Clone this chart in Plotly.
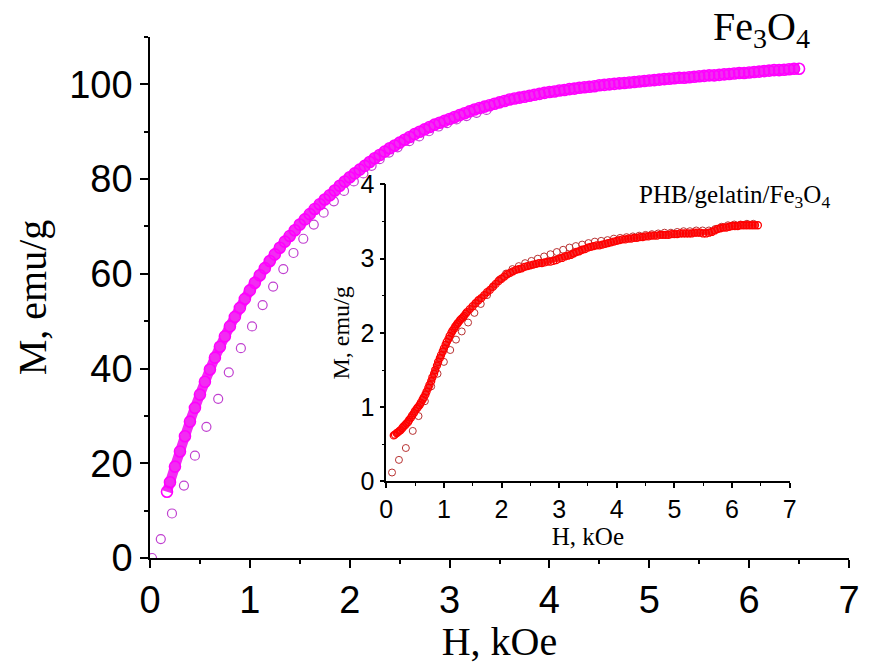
import plotly.graph_objects as go

# ---------------- main plot data (Fe3O4) ----------------
main_loop_H = [0.17, 0.20, 0.25, 0.30, 0.35, 0.40, 0.45, 0.50, 0.55, 0.60, 0.65, 0.70, 0.75, 0.80, 0.85, 0.90, 0.95,
               1.00, 1.05, 1.10, 1.15, 1.20, 1.25, 1.30, 1.35, 1.40, 1.45, 1.50, 1.55, 1.60, 1.65, 1.70, 1.75, 1.80,
               1.85, 1.90, 1.95, 2.00, 2.05, 2.10, 2.15, 2.20, 2.25, 2.30, 2.35, 2.40, 2.45, 2.50, 2.55, 2.60, 2.65,
               2.70, 2.75, 2.80, 2.85, 2.90, 2.95, 3.00, 3.05, 3.10, 3.15, 3.20, 3.25, 3.30, 3.35, 3.40, 3.45, 3.50,
               3.55, 3.60, 3.65, 3.70, 3.75, 3.80, 3.85, 3.90, 3.95, 4.00, 4.05, 4.10, 4.15, 4.20, 4.25, 4.30, 4.35,
               4.40, 4.45, 4.50, 4.55, 4.60, 4.65, 4.70, 4.75, 4.80, 4.85, 4.90, 4.95, 5.00, 5.05, 5.10, 5.15, 5.20,
               5.25, 5.30, 5.35, 5.40, 5.45, 5.50, 5.55, 5.60, 5.65, 5.70, 5.75, 5.80, 5.85, 5.90, 5.95, 6.00, 6.05,
               6.10, 6.15, 6.20, 6.25, 6.30, 6.35, 6.40, 6.45, 6.50]
main_loop_M = [14.0, 16.0, 19.3, 22.5, 25.7, 28.8, 31.7, 34.5, 37.2, 39.8, 42.3, 44.6, 46.8, 48.9, 50.9, 52.8, 54.7,
               56.5, 58.1, 59.7, 61.2, 62.7, 64.1, 65.5, 66.8, 68.0, 69.2, 70.4, 71.5, 72.6, 73.7, 74.7, 75.7, 76.6,
               77.6, 78.6, 79.5, 80.4, 81.2, 82.0, 82.8, 83.6, 84.4, 85.1, 85.8, 86.5, 87.1, 87.7, 88.3, 88.9, 89.5,
               90.0, 90.5, 91.0, 91.5, 91.9, 92.3, 92.7, 93.1, 93.5, 93.9, 94.3, 94.7, 95.0, 95.3, 95.6, 95.9, 96.2,
               96.5, 96.8, 97.0, 97.2, 97.4, 97.6, 97.8, 98.0, 98.2, 98.4, 98.5, 98.7, 98.8, 99.0, 99.1, 99.3, 99.4,
               99.5, 99.6, 99.8, 99.9, 100.0, 100.1, 100.2, 100.3, 100.4, 100.5, 100.6, 100.7, 100.8, 100.9, 101.0,
               101.1, 101.2, 101.3, 101.4, 101.4, 101.5, 101.6, 101.7, 101.8, 101.9, 101.9, 102.0, 102.1, 102.2,
               102.3, 102.4, 102.4, 102.5, 102.6, 102.7, 102.8, 102.9, 103.0, 103.0, 103.1, 103.2, 103.3, 103.3]

main_virgin_H = [0.02, 0.108, 0.22, 0.34, 0.45, 0.565, 0.683, 0.789, 0.91, 1.022, 1.128, 1.233, 1.335, 1.437, 1.535,
                 1.64, 1.739, 1.841, 1.943, 2.041, 2.137, 2.219, 2.30, 2.394, 2.48, 2.597, 2.696, 2.794, 2.89, 2.975,
                 3.07, 3.17, 3.27, 3.37]
main_virgin_M = [0.0, 4.0, 9.4, 15.3, 21.6, 27.7, 33.6, 39.2, 44.3, 48.9, 53.4, 57.3, 61.0, 64.4, 67.4,
                 70.4, 72.9, 75.3, 77.5, 79.5, 81.2, 82.8, 84.2, 85.6, 86.7, 88.0, 89.0, 90.1, 91.1, 91.8,
                 92.6, 93.3, 94.0, 94.6]

# ---------------- inset data (PHB/gelatin/Fe3O4) ----------------
inset_loop_H = [0.13, 0.15, 0.18, 0.20, 0.23, 0.25, 0.28, 0.30, 0.33, 0.35, 0.38, 0.40, 0.43, 0.45, 0.48, 0.50, 0.53,
                0.55, 0.58, 0.60, 0.63, 0.65, 0.68, 0.70, 0.73, 0.75, 0.78, 0.80, 0.83, 0.85, 0.88, 0.90, 0.93, 0.95,
                0.98, 1.00, 1.03, 1.05, 1.08, 1.10, 1.13, 1.15, 1.18, 1.20, 1.23, 1.25, 1.28, 1.30, 1.33, 1.35, 1.38,
                1.40, 1.45, 1.50, 1.55, 1.60, 1.65, 1.70, 1.75, 1.80, 1.85, 1.90, 1.95, 2.00, 2.05, 2.10, 2.15, 2.20,
                2.25, 2.30, 2.35, 2.40, 2.45, 2.50, 2.55, 2.60, 2.65, 2.70, 2.75, 2.80, 2.85, 2.90, 2.95, 3.00, 3.05,
                3.10, 3.15, 3.20, 3.25, 3.30, 3.35, 3.40, 3.45, 3.50, 3.55, 3.60, 3.65, 3.70, 3.75, 3.80, 3.85, 3.90,
                3.95, 4.00, 4.05, 4.10, 4.15, 4.20, 4.25, 4.30, 4.35, 4.40, 4.45, 4.50, 4.55, 4.60, 4.65, 4.70, 4.75,
                4.80, 4.85, 4.90, 4.95, 5.00, 5.05, 5.10, 5.15, 5.20, 5.25, 5.30, 5.35, 5.40, 5.45, 5.50, 5.55, 5.60,
                5.65, 5.70, 5.75, 5.80, 5.85, 5.90, 5.95, 6.00, 6.05, 6.10, 6.15, 6.20, 6.25, 6.30, 6.35, 6.40, 6.45]
inset_loop_M = [0.62, 0.63, 0.65, 0.66, 0.68, 0.69, 0.72, 0.74, 0.76, 0.78, 0.80, 0.83, 0.86, 0.89, 0.92, 0.95, 0.98,
                1.00, 1.03, 1.06, 1.10, 1.13, 1.17, 1.21, 1.26, 1.30, 1.35, 1.40, 1.45, 1.50, 1.56, 1.61, 1.66, 1.70,
                1.75, 1.79, 1.84, 1.88, 1.92, 1.96, 2.00, 2.03, 2.06, 2.09, 2.12, 2.14, 2.17, 2.19, 2.21, 2.23, 2.26,
                2.28, 2.32, 2.36, 2.40, 2.44, 2.47, 2.51, 2.55, 2.58, 2.62, 2.66, 2.70, 2.73, 2.76, 2.79, 2.81, 2.83,
                2.85, 2.86, 2.87, 2.89, 2.90, 2.91, 2.92, 2.93, 2.94, 2.94, 2.95, 2.96, 2.96, 2.97, 2.98, 3.00, 3.01,
                3.03, 3.04, 3.05, 3.07, 3.09, 3.10, 3.12, 3.13, 3.15, 3.16, 3.17, 3.18, 3.18, 3.19, 3.20, 3.21, 3.22,
                3.23, 3.24, 3.25, 3.26, 3.26, 3.27, 3.27, 3.28, 3.28, 3.29, 3.29, 3.30, 3.30, 3.31, 3.31, 3.31, 3.32,
                3.32, 3.32, 3.32, 3.33, 3.33, 3.33, 3.34, 3.34, 3.34, 3.34, 3.34, 3.35, 3.35, 3.35, 3.34, 3.34, 3.35,
                3.36, 3.38, 3.40, 3.41, 3.42, 3.42, 3.43, 3.44, 3.44, 3.44, 3.45, 3.45, 3.45, 3.45, 3.45, 3.45, 3.45]

inset_virgin_H = [0.10, 0.22, 0.34, 0.46, 0.56, 0.67, 0.78, 0.89, 1.00, 1.11, 1.21, 1.31, 1.42, 1.53, 1.64, 1.75,
                  1.86, 1.97, 2.08, 2.19, 2.30, 2.41, 2.52, 2.63, 2.74, 2.85, 2.96, 3.07, 3.18, 3.29, 3.40, 3.51,
                  3.62, 3.73, 3.84, 3.95, 4.06, 4.17, 4.28, 4.39, 4.50, 4.61, 4.72, 4.83, 4.94, 5.05, 5.16, 5.27,
                  5.38, 5.49, 5.60, 5.71, 5.82, 5.93, 6.04, 6.15, 6.26, 6.37]
inset_virgin_M = [0.12, 0.29, 0.45, 0.68, 0.88, 1.08, 1.28, 1.45, 1.61, 1.77, 1.91, 2.02, 2.14, 2.27, 2.39, 2.51,
                  2.63, 2.72, 2.80, 2.86, 2.90, 2.94, 2.97, 3.00, 3.03, 3.06, 3.09, 3.12, 3.15, 3.17, 3.19, 3.21,
                  3.23, 3.24, 3.25, 3.27, 3.28, 3.29, 3.30, 3.31, 3.32, 3.33, 3.34, 3.35, 3.35, 3.36, 3.37, 3.37,
                  3.38, 3.38, 3.38, 3.40, 3.43, 3.45, 3.46, 3.46, 3.47, 3.47]

MAIN_COLOR = "#FF00FF"
MAIN_BAND = "#F22CF2"
MAIN_VIRGIN_COLOR = "#C040D0"
INSET_COLOR = "#FF0000"
INSET_BAND = "#F23030"
INSET_VIRGIN_COLOR = "#B83232"

SANS = "Liberation Sans, Arial, sans-serif"
SERIF = "Liberation Serif, Times New Roman, serif"

fig = go.Figure()

fig.add_trace(go.Scatter(x=main_virgin_H, y=main_virgin_M, mode="markers",
                         marker=dict(symbol="circle-open", size=9, color=MAIN_VIRGIN_COLOR,
                                     line=dict(width=1.2)),
                         xaxis="x", yaxis="y", showlegend=False))
fig.add_trace(go.Scatter(x=main_loop_H, y=main_loop_M, mode="lines+markers",
                         line=dict(color=MAIN_BAND, width=10, shape="spline"),
                         marker=dict(symbol="circle-open", size=11, color=MAIN_COLOR,
                                     line=dict(width=1.6)),
                         xaxis="x", yaxis="y", showlegend=False))

fig.add_trace(go.Scatter(x=inset_virgin_H, y=inset_virgin_M, mode="markers",
                         marker=dict(symbol="circle-open", size=7, color=INSET_VIRGIN_COLOR,
                                     line=dict(width=1)),
                         xaxis="x2", yaxis="y2", showlegend=False))
fig.add_trace(go.Scatter(x=inset_loop_H, y=inset_loop_M, mode="lines+markers",
                         line=dict(color=INSET_BAND, width=6),
                         marker=dict(symbol="circle-open", size=7, color=INSET_COLOR,
                                     line=dict(width=1.3)),
                         xaxis="x2", yaxis="y2", showlegend=False))

axis_common = dict(showline=True, linecolor="black", linewidth=1.5, ticks="outside",
                   tickcolor="black", tickwidth=1.5, showgrid=False, zeroline=False,
                   mirror=False)

fig.update_layout(
    width=871, height=664,
    margin=dict(l=150, r=11, t=37, b=101),
    paper_bgcolor="white", plot_bgcolor="rgba(0,0,0,0)",
    showlegend=False,
    xaxis=dict(**axis_common, range=[0, 7], dtick=1, tick0=0, ticklen=8,
               minor=dict(dtick=0.5, ticks="outside", ticklen=4, tickwidth=1.5, tickcolor="black"),
               tickfont=dict(family=SANS, size=38, color="black"),
               title=dict(text="H, kOe", font=dict(family=SERIF, size=40, color="black"), standoff=4)),
    yaxis=dict(**axis_common, range=[0, 110], dtick=20, tick0=0, ticklen=8,
               minor=dict(dtick=10, ticks="outside", ticklen=4, tickwidth=1.5, tickcolor="black"),
               tickfont=dict(family=SANS, size=38, color="black"),
               title=dict(text="M, emu/g", font=dict(family=SERIF, size=40, color="black"), standoff=10)),
    xaxis2=dict(**axis_common, domain=[0.338, 0.915], anchor="y2", range=[0, 7], dtick=1, tick0=0, ticklen=5,
                minor=dict(dtick=0.5, ticks="outside", ticklen=3, tickwidth=1.2, tickcolor="black"),
                tickfont=dict(family=SANS, size=25, color="black"),
                title=dict(text="H, kOe", font=dict(family=SERIF, size=25, color="black"), standoff=2)),
    yaxis2=dict(**axis_common, domain=[0.147, 0.717], anchor="x2", range=[0, 4], dtick=1, tick0=0, ticklen=5,
                minor=dict(dtick=0.5, ticks="outside", ticklen=3, tickwidth=1.2, tickcolor="black"),
                tickfont=dict(family=SANS, size=25, color="black"),
                title=dict(text="M, emu/g", font=dict(family=SERIF, size=24, color="black"), standoff=4)),
    annotations=[
        dict(text="Fe<sub>3</sub>O<sub>4</sub>", xref="paper", yref="paper", x=0.802, y=1.015,
             xanchor="left", yanchor="middle", showarrow=False,
             font=dict(family=SERIF, size=40, color="black")),
        dict(text="PHB/gelatin/Fe<sub>3</sub>O<sub>4</sub>", xref="paper", yref="paper", x=0.696, y=0.694,
             xanchor="left", yanchor="middle", showarrow=False,
             font=dict(family=SERIF, size=25, color="black")),
    ],
)

fig.write_html("out.html")
